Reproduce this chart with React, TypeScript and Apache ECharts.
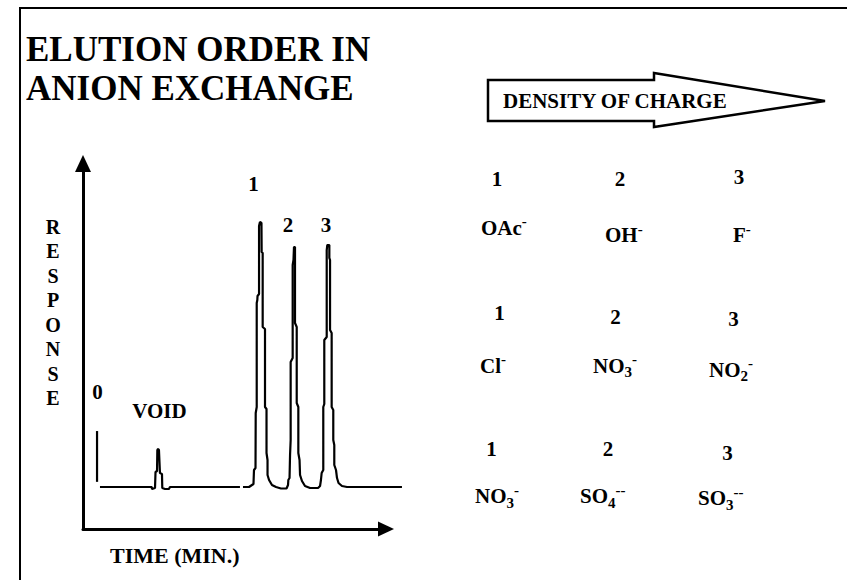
import React, { useEffect, useRef } from 'react';
import * as echarts from 'echarts';

const FONT = '"Liberation Serif", "Times New Roman", serif';

// ---- texts ----
const chartTitle = ['ELUTION ORDER IN', 'ANION EXCHANGE'];
const arrowLabel = 'DENSITY OF CHARGE';
const yAxisTitle = 'RESPONSE';
const xAxisTitle = 'TIME (MIN.)';

// ---- chromatogram (time in min, response in arbitrary units 0-100) ----
const injectionTime = [1.39, 1.39];
const injectionResponse = [12.9, 26.8];

// baseline + void peak
const trace1Time = [1.68, 6.8, 6.83, 7.13, 7.18, 7.33, 7.36, 7.43, 7.52, 7.62, 7.82, 7.85, 8.12, 8.51, 8.61, 15.54];
const trace1Resp = [11.49, 11.49, 10.94, 11.2, 15.6, 15.87, 21.6, 21.9, 21.6, 15.3, 15.05, 11.2, 10.94, 10.94, 11.49, 11.49];

// peaks 1, 2, 3
const trace2Time = [
  15.84, 16.44, 16.73, 16.88, 16.93, 17.08, 17.1, 17.2, 17.2, 17.26, 17.28, 17.43, 17.43, 17.52, 17.67, 17.69,
  17.79, 17.79, 18.02, 18.02, 18.17, 18.17, 18.27, 18.27, 18.42, 18.71, 19.11, 19.6, 20.15, 20.3, 20.33, 20.45,
  20.5, 20.56, 20.56, 20.76, 20.76, 20.84, 20.89, 20.99, 20.99, 21.16, 21.16, 21.32, 21.32, 21.44, 21.49, 21.68,
  21.98, 22.48, 23.27, 23.47, 23.56, 23.63, 23.79, 23.79, 23.89, 23.89, 24.13, 24.13, 24.19, 24.39, 24.39, 24.46,
  24.46, 24.62, 24.62, 24.78, 24.78, 24.88, 24.88, 25.05, 25.15, 25.3, 25.64, 26.14, 31.58,
];
const trace2Resp = [
  11.49, 11.49, 12.04, 12.31, 16.14, 16.69, 31.74, 33.38, 61.83, 62.65, 63.75, 64.3, 82.9, 84.0, 83.72, 75.79,
  75.51, 55.27, 54.72, 33.38, 32.83, 20.79, 18.88, 14.77, 13.41, 12.04, 11.49, 11.08, 11.08, 12.04, 13.41, 13.95,
  20.25, 24.35, 45.69, 46.79, 72.23, 73.6, 77.15, 77.15, 56.36, 55.27, 34.47, 33.38, 20.79, 18.88, 14.77, 13.13,
  11.76, 11.22, 11.22, 11.76, 13.41, 15.32, 16.14, 33.38, 34.2, 51.71, 52.53, 76.33, 77.7, 77.7, 74.15, 73.6,
  54.45, 53.63, 33.38, 32.56, 24.35, 22.98, 17.51, 16.14, 13.95, 12.59, 11.76, 11.49, 11.49,
];

// peak annotations (placed in data coordinates)
const annotationText = ['0', 'VOID', '1', '2', '3'];
const annotationTime = [1.44, 7.57, 16.88, 20.3, 24.06];
const annotationResp = [37.6, 32.4, 94.5, 83.3, 83.2];

// ---- elution order table ----
const orderNumbers = [
  ['1', '2', '3'],
  ['1', '2', '3'],
  ['1', '2', '3'],
];
// [formula, subscript, charge]
const ionRow1 = [['OAc', '', '-'], ['OH', '', '-'], ['F', '', '-']];
const ionRow2 = [['Cl', '', '-'], ['NO', '3', '-'], ['NO', '2', '-']];
const ionRow3 = [['NO', '3', '-'], ['SO', '4', '--'], ['SO', '3', '--']];
const ionRows = [ionRow1, ionRow2, ionRow3];

// layout of the table (hand placed in the original slide)
const numberPos = [
  [[497, 179], [620, 179], [739, 176.5]],
  [[499.5, 312.5], [615.5, 316.7], [733.5, 319]],
  [[491.5, 449], [608, 449], [727.5, 452.5]],
];
const ionPos = [
  [[481, 227.5], [605, 235], [733, 235]],
  [[480, 365.5], [593, 365.5], [709, 369.5]],
  [[475, 496], [580, 496], [698, 498]],
];

const zip = (a: number[], b: number[]) => a.map((v, i) => [v, b[i]]);

export default function App() {
  const ref = useRef<HTMLDivElement>(null);
  useEffect(() => {
    if (!ref.current) return;
    const chart = echarts.init(ref.current, null, { renderer: 'svg' });

    const bold = (size: number) => `bold ${size}px ${FONT}`;
    const txt = (text: string, x: number, y: number, size: number, align = 'left', lineHeight?: number) => ({
      type: 'text',
      silent: true,
      style: {
        text, x, y, font: bold(size), fill: '#000', lineHeight,
        align, textAlign: align, verticalAlign: 'middle', textVerticalAlign: 'middle',
      },
    });

    const rich = {
      b: { fontFamily: FONT, fontWeight: 'bold', fontSize: 21, lineHeight: 28, fill: '#000', color: '#000' },
      sub: { fontFamily: FONT, fontWeight: 'bold', fontSize: 15, lineHeight: 10, verticalAlign: 'bottom', fill: '#000', color: '#000' },
      sup: { fontFamily: FONT, fontWeight: 'bold', fontSize: 15, lineHeight: 13, verticalAlign: 'top', fill: '#000', color: '#000' },
    };

    const graphics: any[] = [
      {
        type: 'rect', silent: true, z: 0,
        shape: { x: 20, y: 8, width: 900, height: 700 },
        style: { fill: 'none', stroke: '#000', lineWidth: 2 },
      },
      txt(chartTitle.join('\n'), 26, 69, 35, 'left', 39),
      {
        type: 'polygon', silent: true,
        shape: { points: [[488, 80], [654, 80], [654, 73], [825, 101], [654, 127], [654, 121], [488, 121]] },
        style: { fill: '#fff', stroke: '#000', lineWidth: 2.5 },
      },
      txt(arrowLabel, 503, 100.5, 21),
      txt(yAxisTitle.split('').join('\n'), 53, 312.5, 20, 'center', 24.5),
      txt(xAxisTitle, 110, 555.5, 22),
    ];

    orderNumbers.forEach((row, r) =>
      row.forEach((n, c) => graphics.push(txt(n, numberPos[r][c][0], numberPos[r][c][1], 21, 'center')))
    );
    ionRows.forEach((row, r) =>
      row.forEach(([f, s, q], c) => {
        let t = `{b|${f}}`;
        if (s) t += `{sub|${s}}`;
        if (q) t += `{sup|${q}}`;
        graphics.push({
          type: 'text', silent: true,
          style: {
            text: t, rich, x: ionPos[r][c][0], y: ionPos[r][c][1],
            align: 'left', textAlign: 'left', verticalAlign: 'middle', textVerticalAlign: 'middle',
          },
        });
      })
    );

    const hiddenAxis = {
      axisLine: { show: false }, axisTick: { show: false }, axisLabel: { show: false }, splitLine: { show: false },
    };
    const lineStyle = { color: '#000', width: 2.2 };
    const lineBase = { type: 'line', xAxisIndex: 1, yAxisIndex: 1, showSymbol: false, symbol: 'none', clip: false, lineStyle, silent: true };
    chart.setOption({
      animation: false,
      backgroundColor: '#fff',
      grid: [
        // visible axes (x: 0–30 min)
        { left: 83, right: 461, top: 163.5, bottom: 51 },
        // data area, same scale, extended so the trace can run past the arrow
        { left: 83, right: 440.8, top: 163.5, bottom: 51 },
      ],
      xAxis: [
        {
          type: 'value', gridIndex: 0, min: 0, max: 30,
          axisLine: { show: true, lineStyle: { color: '#000', width: 3 }, symbol: ['none', 'triangle'], symbolSize: [15, 16] },
          axisTick: { show: false }, axisLabel: { show: false }, splitLine: { show: false },
        },
        { type: 'value', gridIndex: 1, min: 0, max: 32, ...hiddenAxis },
      ],
      yAxis: [
        {
          type: 'value', gridIndex: 0, min: 0, max: 100,
          axisLine: { show: true, lineStyle: { color: '#000', width: 3 }, symbol: ['none', 'triangle'], symbolSize: [16, 17] },
          axisTick: { show: false }, axisLabel: { show: false }, splitLine: { show: false },
        },
        { type: 'value', gridIndex: 1, min: 0, max: 100, ...hiddenAxis },
      ],
      series: [
        { ...lineBase, name: 'injection', data: zip(injectionTime, injectionResponse) },
        { ...lineBase, name: 'void', data: zip(trace1Time, trace1Resp) },
        { ...lineBase, name: 'peaks', data: zip(trace2Time, trace2Resp) },
        {
          type: 'scatter', name: 'labels', xAxisIndex: 1, yAxisIndex: 1, symbolSize: 1, silent: true, clip: false,
          itemStyle: { color: 'rgba(0,0,0,0)' },
          data: annotationText.map((t, i) => ({ name: t, value: [annotationTime[i], annotationResp[i]] })),
          label: {
            show: true, position: 'inside', formatter: '{b}', color: '#000',
            textBorderWidth: 0, textBorderColor: 'transparent', textShadowBlur: 0, opacity: 1,
            fontFamily: FONT, fontWeight: 'bold', fontSize: 21,
          },
        },
      ],
      graphic: graphics,
    });
    return () => chart.dispose();
  }, []);
  return (
    <div
      ref={ref}
      style={{ position: 'fixed', left: 0, top: 0, width: 847, height: 580, background: '#fff' }}
    />
  );
}
